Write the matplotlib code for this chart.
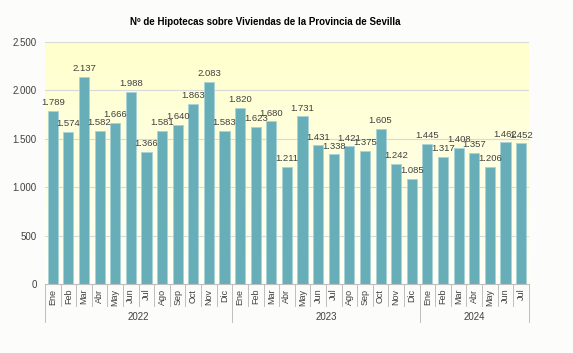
import numpy as np
import matplotlib
matplotlib.use("Agg")
import matplotlib.pyplot as plt
from matplotlib.transforms import blended_transform_factory

plt.rcParams['font.family'] = ['Liberation Sans', 'DejaVu Sans']

months = ["Ene", "Feb", "Mar", "Abr", "May", "Jun", "Jul", "Ago", "Sep", "Oct", "Nov", "Dic"]
years = ["2022", "2023", "2024"]
values_2022 = [1789, 1574, 2137, 1582, 1666, 1988, 1366, 1581, 1640, 1863, 2083, 1583]
values_2023 = [1820, 1623, 1680, 1211, 1731, 1431, 1338, 1421, 1375, 1605, 1242, 1085]
values_2024 = [1445, 1317, 1408, 1357, 1206, 1462, 1452]
yticks = [0, 500, 1000, 1500, 2000, 2500]

series = [values_2022, values_2023, values_2024]
values = values_2022 + values_2023 + values_2024
labels = []
for s in series:
    labels += months[:len(s)]
x = np.arange(len(values))


def fmt(v):
    return f"{v:,}".replace(",", ".")


fig = plt.figure(figsize=(5.73, 3.53), dpi=100, facecolor="#FCFDFB")
ax = fig.add_axes([0.0785, 0.1955, 0.8445, 0.6855])
ax.set_xlim(-0.5, len(values) - 0.5)
ax.set_ylim(0, 2500)

# background gradient yellow -> white
grad = np.linspace(0, 1, 256).reshape(-1, 1)
top = np.array([1.0, 1.0, 0.80])
bot = np.array([1.0, 1.0, 0.97])
img = bot + (top - bot) * grad[..., None]
ax.imshow(img, extent=[-0.5, len(values) - 0.5, 0, 2500], origin="lower",
          aspect="auto", zorder=0)

for t in yticks[1:]:
    ax.axhline(t, color="#D9D9D9", lw=0.8, zorder=1)

ax.bar(x, values, width=0.65, color="#67AEB8", edgecolor="#A9D3D8", lw=0.6, zorder=2)
for xi, v in zip(x, values):
    ax.text(xi, v + 40, fmt(v), ha="center", va="bottom", fontsize=6.8, color="#404040", zorder=3)

ax.set_yticks(yticks)
ax.set_yticklabels([fmt(t) for t in yticks], fontsize=7, color="#404040")
ax.tick_params(axis="y", length=0, pad=6)
ax.set_xticks([])
for sp in ["top", "right", "left"]:
    ax.spines[sp].set_visible(False)
ax.spines["bottom"].set_color("#BFBFBF")

trans = blended_transform_factory(ax.transData, ax.transAxes)
for xi, lab in zip(x, labels):
    ax.text(xi, -0.02, lab, rotation=90, ha="center", va="top", fontsize=6.5,
            color="#404040", transform=trans)
# month separators
for b in np.arange(-0.5, len(values), 1.0):
    ax.plot([b, b], [0, -0.09], color="#BFBFBF", lw=0.7, transform=trans, clip_on=False)
# year separators and labels
start = 0
bounds = [-0.5]
for yr, s in zip(years, series):
    end = start + len(s)
    bounds.append(end - 0.5)
    ax.text((start + end - 1) / 2, -0.136, yr, ha="center", va="center", fontsize=7,
            color="#404040", transform=trans)
    start = end
for b in bounds:
    ax.plot([b, b], [0, -0.157], color="#BFBFBF", lw=0.7, transform=trans, clip_on=False)

fig.text(0.463, 0.937, "Nº de Hipotecas sobre Viviendas de la Provincia de Sevilla",
         ha="center", va="center", fontsize=7, fontweight="bold", color="#000000")

fig.savefig("out.png", dpi=100, facecolor=fig.get_facecolor())
